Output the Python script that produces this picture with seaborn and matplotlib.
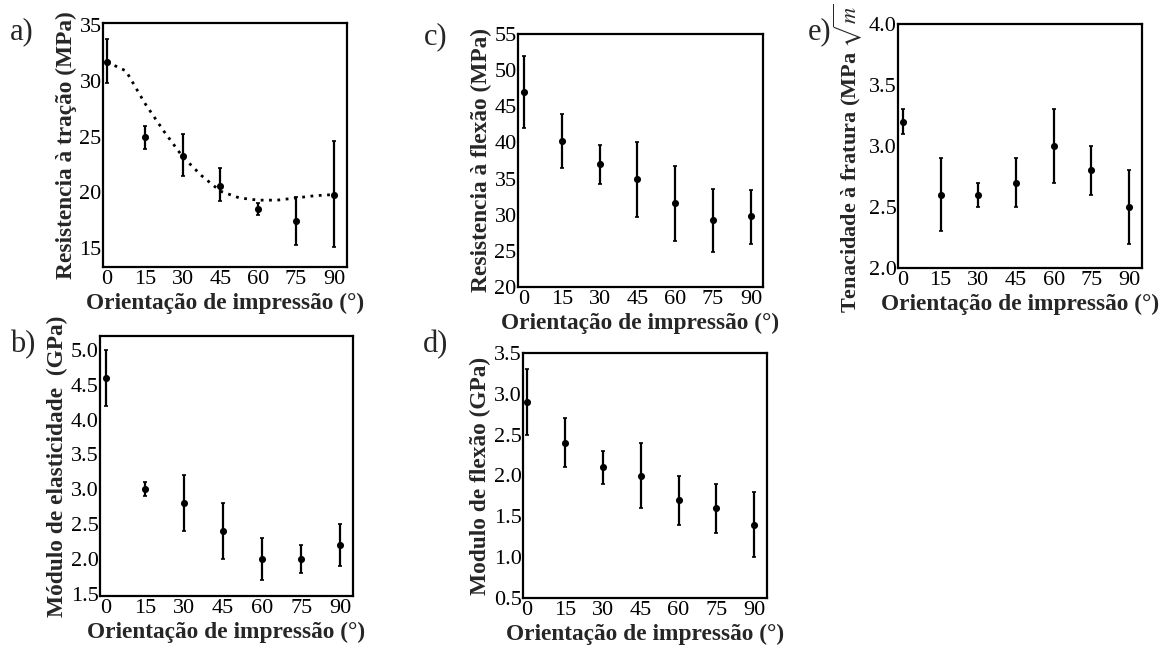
import numpy as np
import pandas as pd
import matplotlib
matplotlib.use("Agg")
import matplotlib.pyplot as plt
import seaborn as sns

# ---------------- data ----------------
angles = [0, 15, 30, 45, 60, 75, 90]
xticks = [0, 15, 30, 45, 60, 75, 90]

# a) Resistencia a tracao (MPa)
tracao_mean = [31.7, 25.0, 23.3, 20.6, 18.5, 17.4, 19.8]
tracao_low = [29.8, 23.9, 21.5, 19.2, 18.0, 15.3, 15.1]
tracao_high = [33.8, 26.0, 25.2, 22.2, 19.0, 19.6, 24.6]
curve_x = [0, 7.5, 15, 22.5, 30, 37.5, 45, 52.5, 60, 67.5, 75, 82.5, 90]
curve_y = [31.7, 30.9, 28.0, 25.5, 23.2, 21.5, 20.1, 19.5, 19.3, 19.3, 19.5, 19.7, 19.8]

# b) Modulo de elasticidade (GPa)
elast_mean = [4.6, 3.0, 2.8, 2.4, 2.0, 2.0, 2.2]
elast_low = [4.2, 2.9, 2.4, 2.0, 1.7, 1.8, 1.9]
elast_high = [5.0, 3.1, 3.2, 2.8, 2.3, 2.2, 2.5]

# c) Resistencia a flexao (MPa)
flexao_mean = [47.0, 40.2, 37.0, 35.0, 31.6, 29.3, 29.8]
flexao_low = [42.0, 36.5, 34.3, 29.7, 26.4, 24.8, 25.9]
flexao_high = [51.9, 43.9, 39.6, 40.1, 36.7, 33.6, 33.4]

# d) Modulo de flexao (GPa)
modflex_mean = [2.9, 2.4, 2.1, 2.0, 1.7, 1.6, 1.4]
modflex_low = [2.5, 2.1, 1.9, 1.6, 1.4, 1.3, 1.0]
modflex_high = [3.3, 2.7, 2.3, 2.4, 2.0, 1.9, 1.8]

# e) Tenacidade a fratura (MPa sqrt(m))
tenac_mean = [3.2, 2.6, 2.6, 2.7, 3.0, 2.8, 2.5]
tenac_low = [3.1, 2.3, 2.5, 2.5, 2.7, 2.6, 2.2]
tenac_high = [3.3, 2.9, 2.7, 2.9, 3.3, 3.0, 2.8]

# ---------------- style ----------------
sns.set_theme(style="white")
plt.rcParams['font.family'] = ['Liberation Serif', 'DejaVu Serif']
plt.rcParams['mathtext.fontset'] = 'stix'

W, H = 1173, 649
fig = plt.figure(figsize=(W / 100, H / 100), dpi=100)

def make_ax(x0, y0, x1, y1):
    return fig.add_axes([x0 / W, 1 - y1 / H, (x1 - x0) / W, (y1 - y0) / H])

XLABEL = "Orientação de impressão (°)"
TICK_FS = 16
LAB_FS = 16.8

def panel(ax, mean, low, high, ylim, yticks, yfmt, ylabel, xlim, ylabfs=LAB_FS):
    df = pd.DataFrame({"ang": angles, "val": mean, "low": low, "high": high})
    yerr = np.vstack([df["val"] - df["low"], df["high"] - df["val"]])
    ax.errorbar(df["ang"], df["val"], yerr=yerr, fmt="none", ecolor="black",
                elinewidth=1.6, capsize=1.5, capthick=1.2, zorder=2)
    sns.scatterplot(data=df, x="ang", y="val", ax=ax, color="black", s=26,
                    edgecolor="black", linewidth=0, zorder=3, legend=False)
    ax.set_xlim(*xlim)
    ax.set_ylim(*ylim)
    ax.set_xticks(xticks)
    ax.set_xticklabels([str(t) for t in xticks])
    ax.set_yticks(yticks)
    ax.set_yticklabels([yfmt.format(t) for t in yticks])
    ax.tick_params(axis="both", length=0, labelsize=TICK_FS, colors="black")
    ax.tick_params(axis="x", pad=2)
    ax.tick_params(axis="y", pad=1)
    for s in ax.spines.values():
        s.set_visible(True)
        s.set_color("black")
        s.set_linewidth(1.6)
    ax.set_xlabel(XLABEL, fontsize=LAB_FS, fontweight="bold", labelpad=3)
    ax.set_ylabel(ylabel, fontsize=ylabfs, fontweight="bold", labelpad=2)
    ax.grid(False)

# a)
ax_a = make_ax(103, 23, 347, 267)
sns.lineplot(x=curve_x, y=curve_y, ax=ax_a, color="black", linewidth=2.0,
             linestyle=(0, (1, 2)), zorder=1)
panel(ax_a, tracao_mean, tracao_low, tracao_high, (13.3, 35.2),
      [15, 20, 25, 30, 35], "{:.0f}", "Resistencia à tração (MPa)", (-1.6, 95.2))

# b)
ax_b = make_ax(100, 336, 353, 596)
panel(ax_b, elast_mean, elast_low, elast_high, (1.47, 5.2),
      [1.5, 2.0, 2.5, 3.0, 3.5, 4.0, 4.5, 5.0], "{:.1f}",
      "Módulo de elasticidade  (GPa)", (-2.3, 94.8))

# c)
ax_c = make_ax(518, 34, 763, 287)
panel(ax_c, flexao_mean, flexao_low, flexao_high, (20, 55),
      [20, 25, 30, 35, 40, 45, 50, 55], "{:.0f}",
      "Resistencia à flexão (MPa)", (-2.4, 94.8))

# d)
ax_d = make_ax(523, 353, 767, 598)
panel(ax_d, modflex_mean, modflex_low, modflex_high, (0.5, 3.5),
      [0.5, 1.0, 1.5, 2.0, 2.5, 3.0, 3.5], "{:.1f}",
      "Modulo de flexão (GPa)", (-1.6, 95.0))

# e)
ax_e = make_ax(898, 24, 1142, 268)
panel(ax_e, tenac_mean, tenac_low, tenac_high, (2.0, 4.0),
      [2.0, 2.5, 3.0, 3.5, 4.0], "{:.1f}",
      r"Tenacidade à fratura (MPa $\sqrt{m}$", (-2.0, 95.2), ylabfs=16.0)
ax_e.yaxis.set_label_coords(-0.14, 0.45)

# panel letters
for txt, x, y in [("a)", 22, 32), ("b)", 23, 345), ("c)", 436, 37),
                  ("d)", 436, 345), ("e)", 820, 32)]:
    fig.text(x / W, 1 - y / H, txt, fontsize=22, ha="center", va="center")

fig.savefig("out.png", dpi=100, facecolor="white")
